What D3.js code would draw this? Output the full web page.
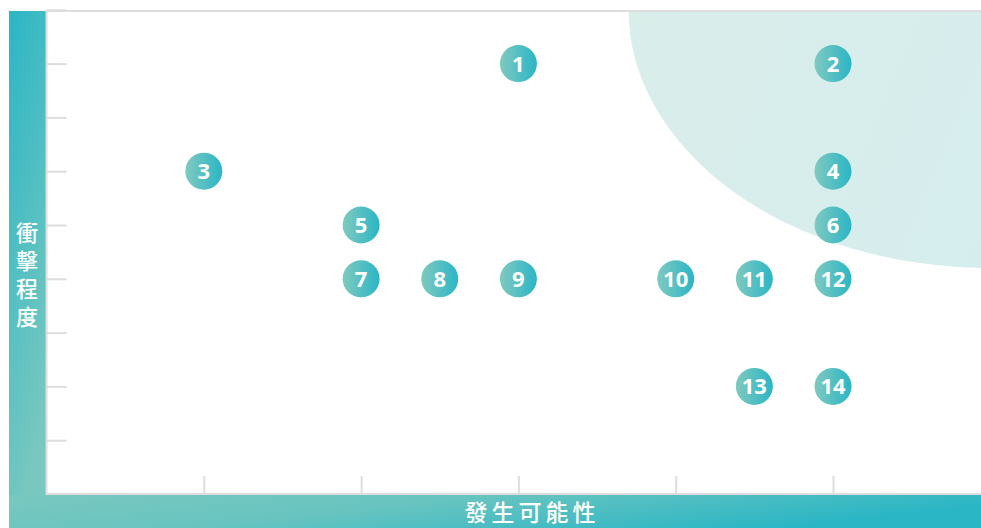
<!DOCTYPE html>
<html>
<head>
<meta charset="utf-8">
<script src="https://cdn.jsdelivr.net/npm/d3@7"></script>
<style>
  html, body { margin: 0; padding: 0; background: #fff; }
  svg { display: block; }
</style>
</head>
<body>
<div id="chartDiv"></div>
<script>
// risk items: id, likelihood (x), impact (y)
const riskIds = [1, 2, 3, 4, 5, 6, 7, 8, 9, 10, 11, 12, 13, 14];
const likelihood = [3, 5, 1, 5, 2, 5, 2, 2.5, 3, 4, 4.5, 5, 4.5, 5];
const impact = [8, 8, 6, 6, 5, 5, 4, 4, 4, 4, 4, 4, 2, 2];

const xTicks = [1, 2, 3, 4, 5];
const yTicks = [1, 2, 3, 4, 5, 6, 7, 8, 9];
const xLabel = '發生可能性';
const yLabel = '衝擊程度';

// high risk zone, quarter ellipse in data units
const zoneCenter = [6, 9];
const zoneRadius = [2.3, 4.8];

const W = 981, H = 528;
const frame = { left: 9, top: 11, bar: 37 };
const plot = { left: 46.5, right: 981, top: 11, bottom: 494 };

function makeGradient(defs, id, x1, y1, x2, y2, stops){
	const g = defs.append('linearGradient')
		.attr('id', id)
		.attr('x1', x1).attr('y1', y1)
		.attr('x2', x2).attr('y2', y2);
	stops.forEach(s => g.append('stop').attr('offset', s[0]).attr('stop-color', s[1]));
	return g;
}

function buildChart(){
	const svg = d3.select('#chartDiv').append('svg')
		.attr('width', W)
		.attr('height', H);
	const defs = svg.append('defs');

	makeGradient(defs, 'leftBarGrad', 0, 0, 0.3, 1, [[0, '#2bb6c5'], [1, '#79c8bf']]);
	makeGradient(defs, 'bottomBarGrad', 0, 0, 1, 0.3, [[0, '#79c8bf'], [0.45, '#68c4c0'], [1, '#2bb6c5']]);
	makeGradient(defs, 'zoneGrad', 0, 0, 1, 0.3, [[0, '#daeee8'], [1, '#d5edf1']]);
	makeGradient(defs, 'dotGrad', 0, 0, 1, 0, [[0, '#80c9bf'], [1, '#2ab6c6']]);

	defs.append('clipPath').attr('id', 'plotClip')
		.append('rect')
		.attr('x', plot.left)
		.attr('y', plot.top)
		.attr('width', plot.right - plot.left)
		.attr('height', plot.bottom - plot.top);

	const x = d3.scaleLinear().domain([0, 6]).range([plot.left, plot.left + 6 * 157.3]);
	const y = d3.scaleLinear().domain([0, 9]).range([plot.bottom, plot.bottom - 9 * 53.8]);

	// teal frame
	svg.append('rect')
		.attr('x', frame.left).attr('y', frame.top)
		.attr('width', frame.bar).attr('height', H - frame.top)
		.attr('fill', 'url(#leftBarGrad)');
	svg.append('rect')
		.attr('x', frame.left).attr('y', plot.bottom + 1)
		.attr('width', W - frame.left).attr('height', H - plot.bottom - 1)
		.attr('fill', 'url(#bottomBarGrad)');

	// high risk zone
	svg.append('ellipse')
		.attr('clip-path', 'url(#plotClip)')
		.attr('cx', x(zoneCenter[0]))
		.attr('cy', y(zoneCenter[1]))
		.attr('rx', x(zoneRadius[0]) - x(0))
		.attr('ry', y(0) - y(zoneRadius[1]))
		.attr('fill', 'url(#zoneGrad)');

	// ticks
	const yAxis = svg.append('g')
		.attr('transform', `translate(${plot.left},0)`)
		.call(d3.axisLeft(y).tickValues(yTicks).tickSize(-20).tickFormat(''));
	const xAxis = svg.append('g')
		.attr('transform', `translate(0,${plot.bottom})`)
		.call(d3.axisBottom(x).tickValues(xTicks).tickSize(-18).tickFormat(''));
	[yAxis, xAxis].forEach(a => {
		a.select('.domain').remove();
		a.selectAll('line').attr('stroke', '#dddddd').attr('stroke-width', 2);
	});

	// plot border
	const border = svg.append('g').attr('stroke', '#dddddd').attr('stroke-width', 2).attr('fill', 'none');
	border.append('line').attr('x1', plot.left).attr('x2', W).attr('y1', plot.top).attr('y2', plot.top);
	border.append('line').attr('x1', plot.left).attr('x2', plot.left).attr('y1', plot.top - 1).attr('y2', plot.bottom + 1);
	border.append('line').attr('x1', plot.left).attr('x2', W).attr('y1', plot.bottom).attr('y2', plot.bottom);

	// points
	const dots = svg.append('g').selectAll('g')
		.data(riskIds.map((id, i) => ({ id, x: likelihood[i], y: impact[i] })))
		.enter().append('g')
		.attr('transform', d => `translate(${x(d.x)},${y(d.y)})`);
	dots.append('circle')
		.attr('r', 18.5)
		.attr('fill', 'url(#dotGrad)');
	dots.append('text')
		.attr('text-anchor', 'middle')
		.attr('dy', '0.36em')
		.attr('fill', '#fff')
		.style('font-family', '"Open Sans", sans-serif')
		.style('font-weight', 700)
		.style('font-size', '22px')
		.text(d => d.id);

	// axis titles
	svg.append('text')
		.attr('x', 532)
		.attr('y', 521)
		.attr('text-anchor', 'middle')
		.attr('fill', '#fff')
		.style('font-family', '"Noto Sans CJK TC", sans-serif')
		.style('font-weight', 500)
		.style('font-size', '23px')
		.style('letter-spacing', '4px')
		.text(xLabel);

	svg.append('text')
		.attr('x', 27)
		.attr('y', 222)
		.attr('fill', '#fff')
		.style('writing-mode', 'vertical-rl')
		.style('font-family', '"Noto Sans CJK TC", sans-serif')
		.style('font-weight', 500)
		.style('font-size', '22px')
		.style('letter-spacing', '6px')
		.text(yLabel);
}

buildChart();
</script>
</body>
</html>
